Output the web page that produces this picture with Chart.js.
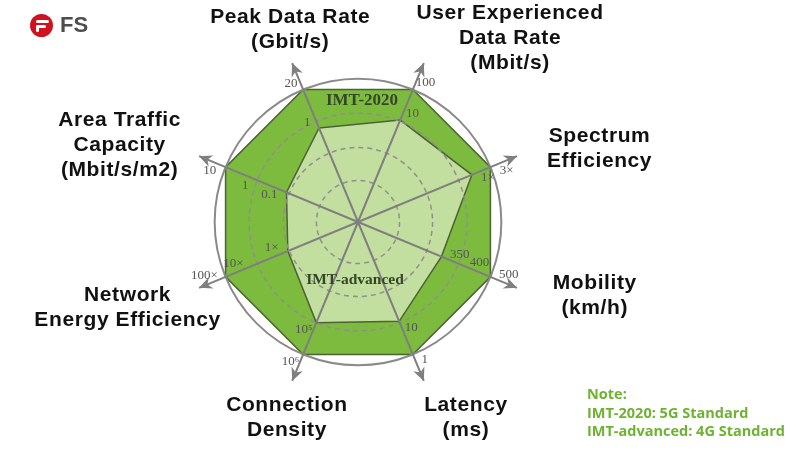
<!DOCTYPE html>
<html>
<head>
<meta charset="utf-8">
<script src="https://cdn.jsdelivr.net/npm/chart.js@4.4.0/dist/chart.umd.min.js"></script>
<style>
  html, body { margin: 0; padding: 0; background: #fff; }
  #wrap { position: relative; width: 800px; height: 450px; }
  .logo { position: absolute; left: 30px; top: 13px; height: 24px; display: flex; align-items: center; }
  .logo .mark { width: 23px; height: 23px; border-radius: 50%; background: #d0121f; position: relative; overflow: hidden; }
  .logo .mark i { position: absolute; background: #fff; height: 3px; border-radius: 2px; }
  .logo span { font: bold 22px "Liberation Sans", Arial, sans-serif; color: #4d4d4d; margin-left: 7px; }
  .note { position: absolute; left: 587px; top: 385px; font: bold 14.5px "Open Sans", sans-serif; color: #6db32f; line-height: 18.5px; }
</style>
</head>
<body>
<div id="wrap">
  <canvas id="radar" width="800" height="450"></canvas>
  <div class="logo">
    <div class="mark"><i style="left:6px;top:6px;width:13px"></i><i style="left:6px;top:11px;width:10px"></i><i style="left:6px;top:11px;width:3px;height:7px"></i></div>
    <span>FS</span>
  </div>
  <div class="note">Note:<br>IMT-2020: 5G Standard<br>IMT-advanced: 4G Standard</div>
</div>
<script>
const axisLabels = [
  ['Peak Data Rate', '(Gbit/s)'],
  ['User Experienced', 'Data Rate', '(Mbit/s)'],
  ['Spectrum', 'Efficiency'],
  ['Mobility', '(km/h)'],
  ['Latency', '(ms)'],
  ['Connection', 'Density'],
  ['Network', 'Energy Efficiency'],
  ['Area Traffic', 'Capacity', '(Mbit/s/m2)']
];

// radial position of each vertex, in % of the outer ring
const imt2020 = [100, 100, 100, 100, 100, 100, 100, 100];
const imtAdvanced = [71, 77, 86, 63, 75, 76, 53, 54];

// circles drawn on the scale (last one is the solid outer ring)
const ringLevels = [0, 29, 52, 76, 100];

// value marks written along each axis: [position, text]
const axisTicks = [
  [[100, '20'], [71, '1']],
  [[100, '100'], [77, '10']],
  [[100, '3×'], [86, '1×']],
  [[100, '500'], [78, '400'], [63, '350']],
  [[100, '1'], [75, '10']],
  [[100, '10⁶'], [76, '10⁵']],
  [[100, '100×'], [80, '10×'], [53, '1×']],
  [[100, '10'], [75, '1'], [54, '0.1']]
];

const seriesNames = ['IMT-2020', 'IMT-advanced'];

// how far out each axis title sits, as multiples of the scale radius (x, y)
const titleReach = [[1.03, 1.21], [2.31, 1.17], [1.52, 1.12], [1.49, 1.12],
                    [1.64, 1.23], [1.08, 1.23], [1.45, 1.3], [1.5, 1.17]];

const radarDecor = {
  id: 'radarDecor',
  afterDraw(chart) {
    const scale = chart.scales.r;
    const ctx = chart.ctx;
    const R = scale.drawingArea;
    const xc = scale.xCenter, yc = scale.yCenter;
    ctx.save();

    // arrow heads at the end of the spokes
    ctx.fillStyle = '#7f7f7f';
    axisLabels.forEach((_, i) => {
      const tip = scale.getPointPosition(i, R);
      const a = scale.getIndexAngle(i) - Math.PI / 2;
      const ux = Math.cos(a), uy = Math.sin(a);
      const bx = tip.x - ux * 13, by = tip.y - uy * 13;
      ctx.beginPath();
      ctx.moveTo(tip.x, tip.y);
      ctx.lineTo(bx - uy * 6, by + ux * 6);
      ctx.lineTo(tip.x - ux * 9, tip.y - uy * 9);
      ctx.lineTo(bx + uy * 6, by - ux * 6);
      ctx.closePath();
      ctx.fill();
    });

    // value marks along the axes
    ctx.font = '13px "Liberation Serif", serif';
    ctx.fillStyle = '#555';
    ctx.textAlign = 'center';
    ctx.textBaseline = 'middle';
    axisTicks.forEach((marks, i) => {
      const deg = scale.getIndexAngle(i) * 180 / Math.PI;
      const side = (deg % 180) < 90 ? 1 : -1;
      const a = scale.getIndexAngle(i) - Math.PI / 2;
      const ux = Math.cos(a), uy = Math.sin(a);
      marks.forEach(([v, t]) => {
        const w = ctx.measureText(t).width;
        const d = scale.getDistanceFromCenterForValue(v) + 8 + 0.45 * w * Math.abs(ux);
        const p = scale.getPointPosition(i, d);
        ctx.fillText(t, p.x + side * 9 * -uy, p.y + side * 9 * ux);
      });
    });

    // axis titles
    ctx.font = 'bold 21px "Liberation Sans", Arial, sans-serif';
    ctx.letterSpacing = '0.6px';
    ctx.fillStyle = '#111';
    const lh = 25;
    axisLabels.forEach((lines, i) => {
      const a = scale.getIndexAngle(i) - Math.PI / 2;
      const [kx, ky] = titleReach[i];
      const cx = xc + Math.cos(a) * R * kx;
      let top = yc + Math.sin(a) * R * ky - lines.length * lh / 2;
      top = Math.max(1, Math.min(chart.height - 3 - lines.length * lh, top));
      lines.forEach((s, k) => ctx.fillText(s, cx, top + lh * (k + 0.5)));
    });
    ctx.letterSpacing = '0px';

    // series names inside the polygons
    ctx.fillStyle = '#36452a';
    ctx.font = 'bold 17px "Liberation Serif", serif';
    ctx.fillText(seriesNames[0], xc + 4, yc - scale.getDistanceFromCenterForValue(85));
    ctx.font = 'bold 15.5px "Liberation Serif", serif';
    ctx.fillText(seriesNames[1], xc - 3, yc + scale.getDistanceFromCenterForValue(40.5));
    ctx.restore();
  }
};

new Chart(document.getElementById('radar'), {
  type: 'radar',
  data: {
    labels: axisLabels,
    datasets: [
      {
        label: seriesNames[1],
        data: imtAdvanced,
        backgroundColor: '#c3df9f',
        borderColor: '#4e6136',
        borderWidth: 1.5,
        fill: true,
        order: 1
      },
      {
        label: seriesNames[0],
        data: imt2020,
        backgroundColor: '#7dbb3e',
        borderColor: '#4e6136',
        borderWidth: 1.5,
        fill: true,
        order: 2
      }
    ]
  },
  options: {
    responsive: false,
    animation: false,
    layout: { padding: { left: 0, right: 84, top: 50, bottom: 56 } },
    elements: {
      point: { radius: 0, hoverRadius: 0 },
      line: { tension: 0 }
    },
    plugins: {
      legend: { display: false },
      tooltip: { enabled: false }
    },
    scales: {
      r: {
        min: 0,
        max: 120,
        startAngle: -22.5,
        afterBuildTicks: (scale) => {
          scale.ticks = ringLevels.map(v => ({ value: v }));
        },
        ticks: { display: false },
        pointLabels: { display: false },
        angleLines: { color: '#7f7f7f', lineWidth: 2 },
        grid: {
          circular: true,
          z: 1,
          color: (c) => c.index === ringLevels.length - 1 ? '#8a8a8a' : '#8f8f8f',
          lineWidth: (c) => c.index === ringLevels.length - 1 ? 2 : 1.5
        },
        border: {
          dash: (c) => c.index === ringLevels.length - 1 ? [] : [5, 4]
        }
      }
    }
  },
  plugins: [radarDecor]
});
</script>
</body>
</html>
